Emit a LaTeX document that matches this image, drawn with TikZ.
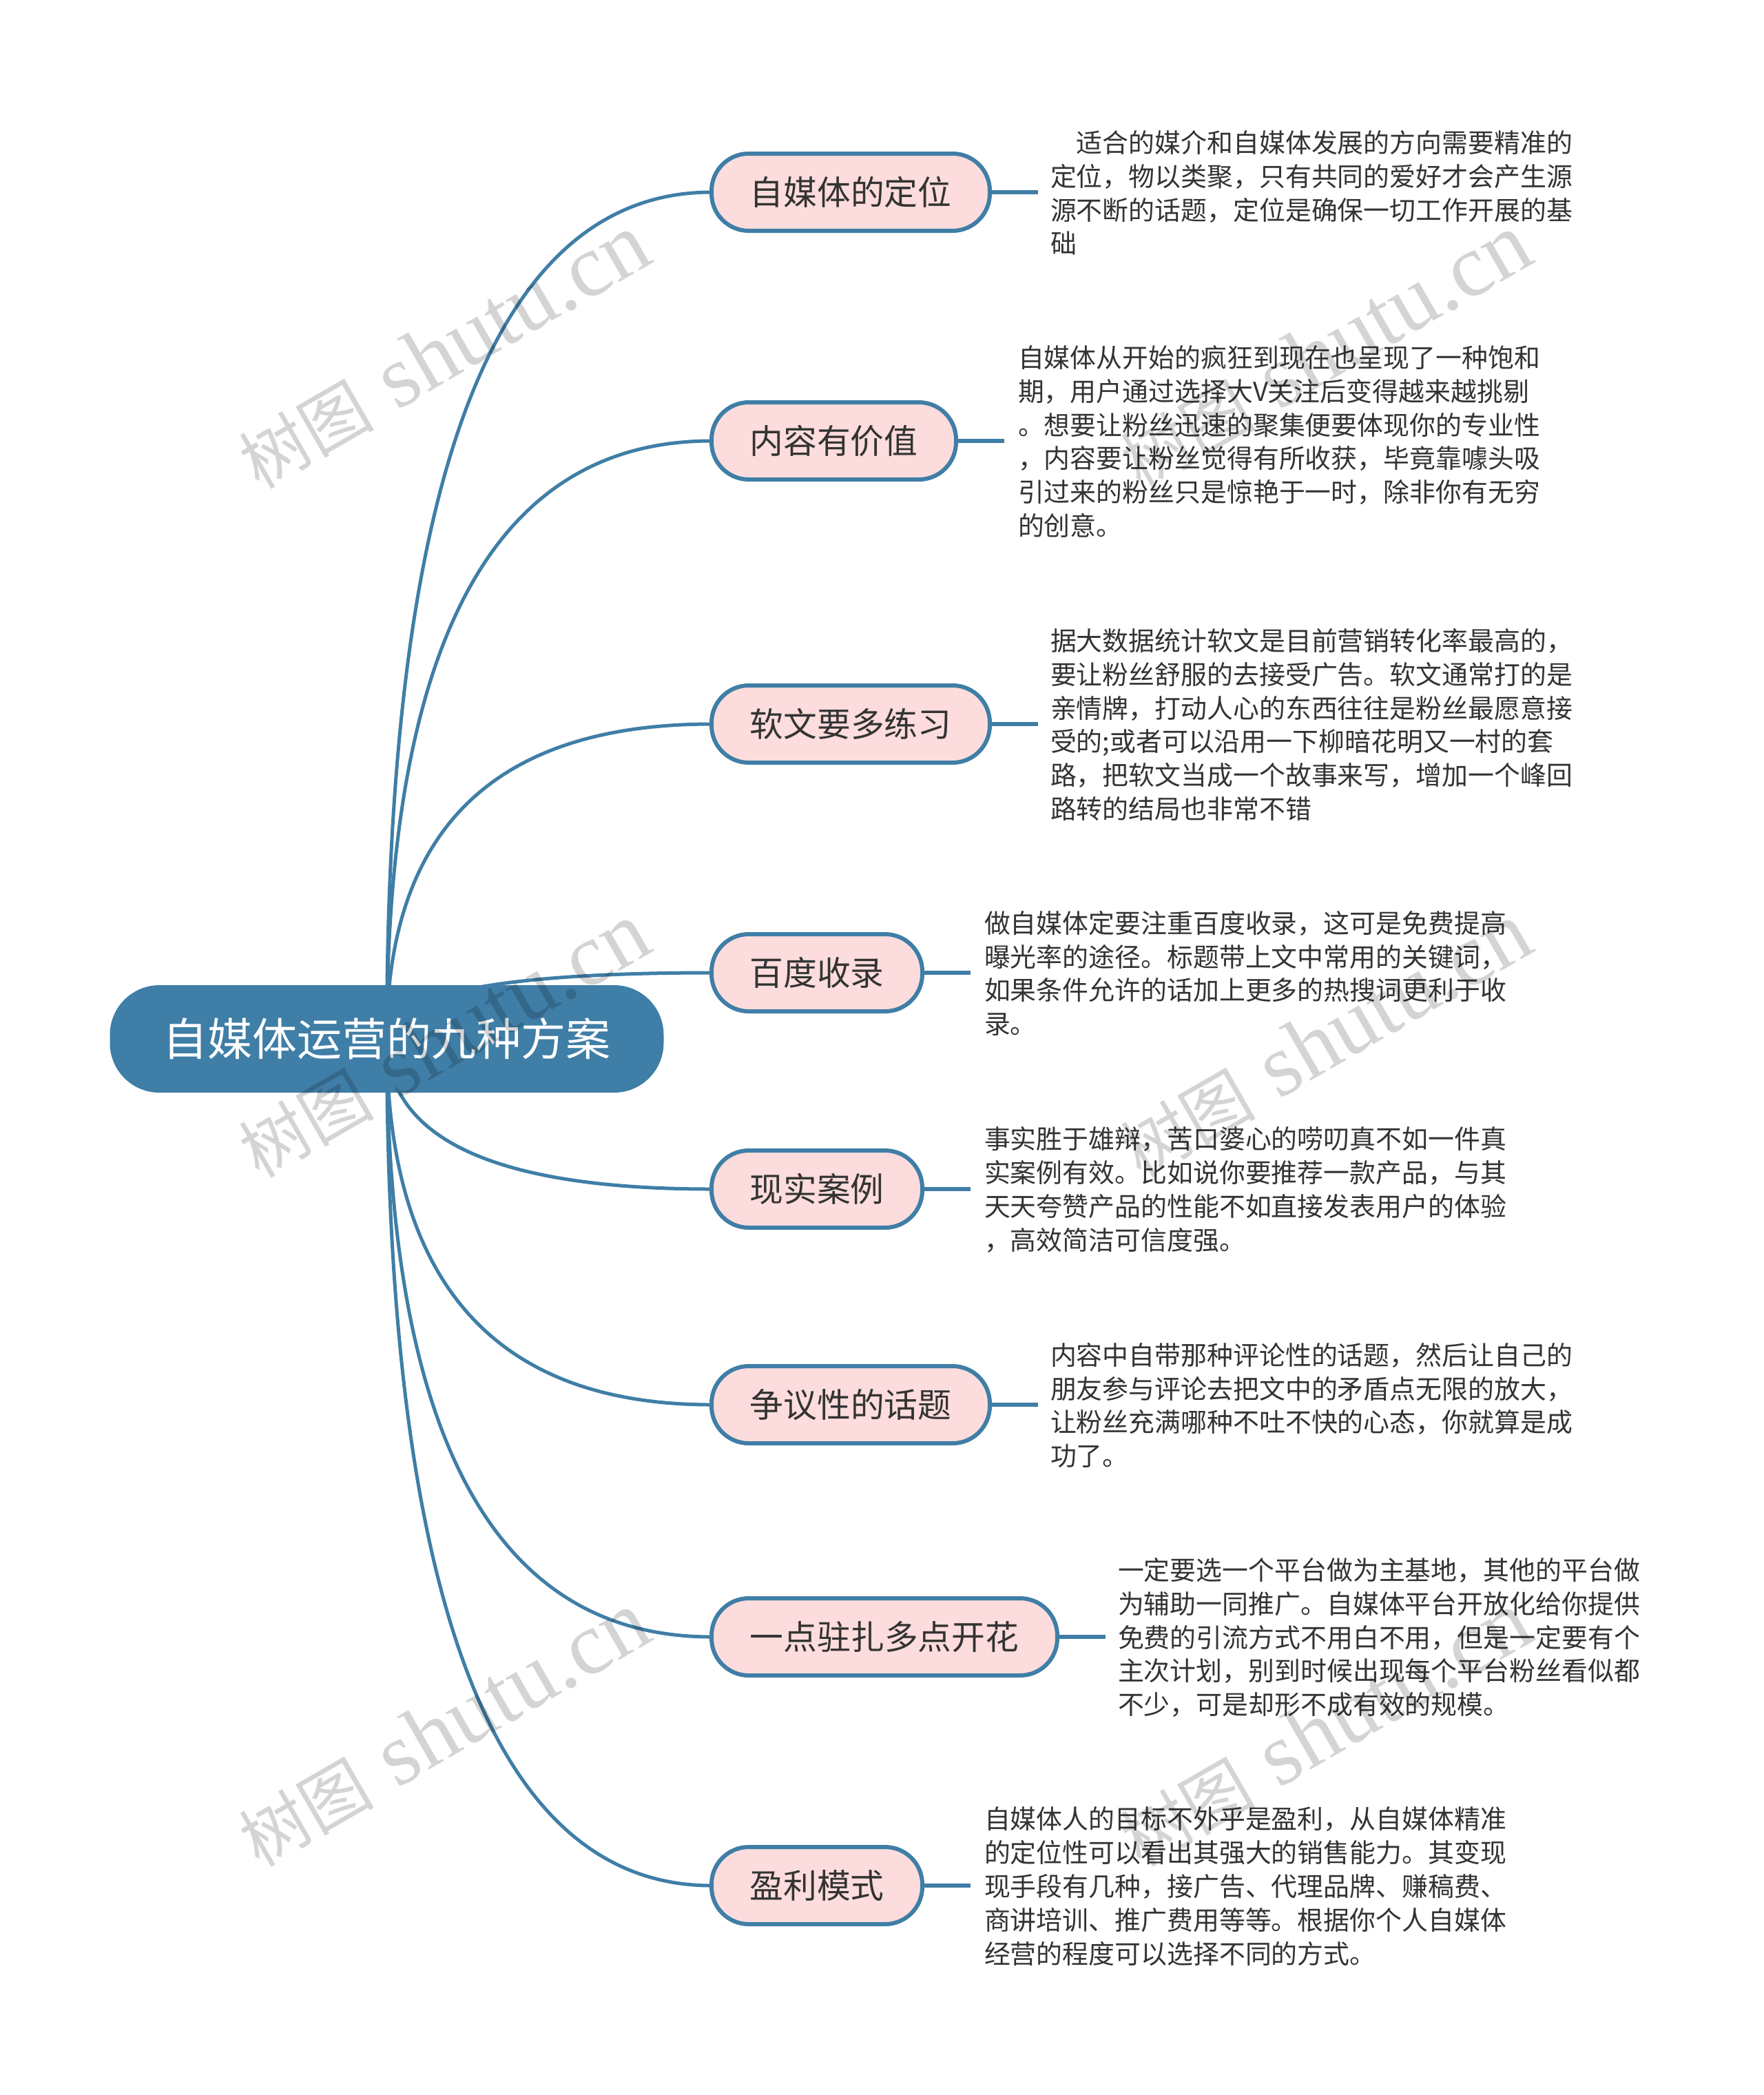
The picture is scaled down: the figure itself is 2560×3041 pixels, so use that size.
\documentclass[tikz,border=0pt]{standalone}
\usepackage{fontspec}
\usetikzlibrary{calc,backgrounds}
\setmainfont{Noto Sans CJK SC}
\newfontfamily\wmlatin{Liberation Serif}
\definecolor{mainblue}{HTML}{3F7EA6}
\definecolor{pinkfill}{HTML}{FCDCDC}
\definecolor{inktext}{HTML}{333333}
\tikzset{
  rootbox/.style={fill=mainblue,draw=none,text=white,rounded corners=36pt,minimum width=402pt,minimum height=78pt,outer sep=0pt,inner sep=0pt,font=\fontsize{32.5}{36}\selectfont},
  branchbox/.style={fill=pinkfill,draw=mainblue,line width=3pt,text=inktext,rounded corners=27pt,minimum height=56pt,outer sep=0pt,inner sep=0pt,anchor=west,font=\fontsize{24.4}{28}\selectfont},
  bodytext/.style={anchor=west,align=left,inner sep=0pt,outer sep=0pt,text=inktext,font=\fontsize{18.95}{24.4}\selectfont},
  conn/.style={draw=mainblue,line width=2.5pt},
  stub/.style={draw=mainblue,line width=3pt},
  wmark/.style={rotate=30,text=black,text opacity=0.17,inner sep=0pt,font=\fontsize{64.5}{70}\wmlatin}
}
\newcommand{\wmtext}{{\fontsize{49}{60}\rmfamily 树图}\hspace{0.02em} shutu.cn}
% id, path width (px), y (px), label, body x (px), body lines
\newcommand{\mybranch}[6]{%
  \node[branchbox,minimum width=#2*0.5pt] (b#1) at (1033,#3) {#4};
  \coordinate (s#1) at ($(b#1.east)+(70,0)$);
  \node[bodytext] (t#1) at (#5,#3+1) {#6};
  \begin{pgfonlayer}{background}
    \draw[conn] (root.center) .. controls ($(root.center)!0.6667!(root.center |- b#1.west)$) and ($(b#1.west)!0.6667!(root.center |- b#1.west)$) .. (b#1.west);
    \draw[stub] (b#1.east) -- (s#1);
  \end{pgfonlayer}
}
\begin{document}
\begin{tikzpicture}[x=0.5pt,y=-0.5pt]
\useasboundingbox (0,0) rectangle (2560,3041);
\node[rootbox] (root) at (561.5,1508) {自媒体运营的九种方案};
\mybranch{1}{404}{279}{自媒体的定位}{1525}{\hspace*{1em}适合的媒介和自媒体发展的方向需要精准的\\定位，物以类聚，只有共同的爱好才会产生源\\源不断的话题，定位是确保一切工作开展的基\\础}
\mybranch{2}{355}{640}{内容有价值}{1478}{自媒体从开始的疯狂到现在也呈现了一种饱和\\期，用户通过选择大V关注后变得越来越挑剔\\。想要让粉丝迅速的聚集便要体现你的专业性\\，内容要让粉丝觉得有所收获，毕竟靠噱头吸\\引过来的粉丝只是惊艳于一时，除非你有无穷\\的创意。}
\mybranch{3}{404}{1051}{软文要多练习}{1525}{据大数据统计软文是目前营销转化率最高的，\\要让粉丝舒服的去接受广告。软文通常打的是\\亲情牌，打动人心的东西往往是粉丝最愿意接\\受的;或者可以沿用一下柳暗花明又一村的套\\路，把软文当成一个故事来写，增加一个峰回\\路转的结局也非常不错}
\mybranch{4}{306}{1412}{百度收录}{1429}{做自媒体定要注重百度收录，这可是免费提高\\曝光率的途径。标题带上文中常用的关键词，\\如果条件允许的话加上更多的热搜词更利于收\\录。}
\mybranch{5}{306}{1726}{现实案例}{1429}{事实胜于雄辩，苦口婆心的唠叨真不如一件真\\实案例有效。比如说你要推荐一款产品，与其\\天天夸赞产品的性能不如直接发表用户的体验\\，高效简洁可信度强。}
\mybranch{6}{404}{2039}{争议性的话题}{1525}{内容中自带那种评论性的话题，然后让自己的\\朋友参与评论去把文中的矛盾点无限的放大，\\让粉丝充满哪种不吐不快的心态，你就算是成\\功了。}
\mybranch{7}{502}{2376}{一点驻扎多点开花}{1623}{一定要选一个平台做为主基地，其他的平台做\\为辅助一同推广。自媒体平台开放化给你提供\\免费的引流方式不用白不用，但是一定要有个\\主次计划，别到时候出现每个平台粉丝看似都\\不少，可是却形不成有效的规模。}
\mybranch{8}{306}{2737}{盈利模式}{1429}{自媒体人的目标不外乎是盈利，从自媒体精准\\的定位性可以看出其强大的销售能力。其变现\\现手段有几种，接广告、代理品牌、赚稿费、\\商讲培训、推广费用等等。根据你个人自媒体\\经营的程度可以选择不同的方式。}
\node[wmark] (wm1) at (644,510) {\wmtext};
\node[wmark] (wm2) at (1924,510) {\wmtext};
\node[wmark] (wm3) at (644,1510) {\wmtext};
\node[wmark] (wm4) at (1924,1510) {\wmtext};
\node[wmark] (wm5) at (644,2510) {\wmtext};
\node[wmark] (wm6) at (1924,2510) {\wmtext};
\end{tikzpicture}
\end{document}
